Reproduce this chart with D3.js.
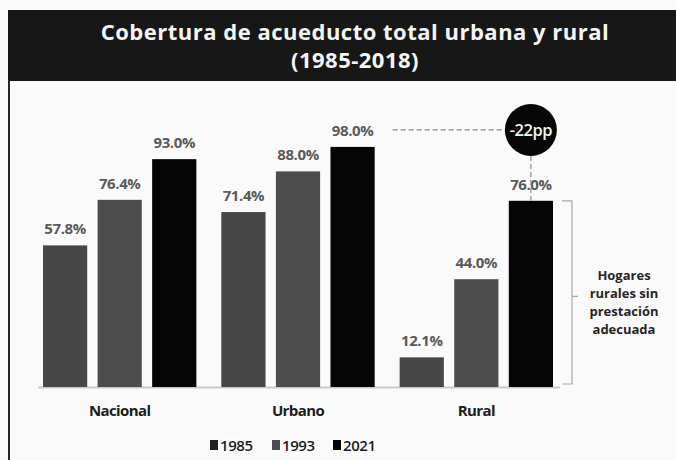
<!DOCTYPE html>
<html>
<head>
<meta charset="utf-8">
<script src="https://cdn.jsdelivr.net/npm/d3@7"></script>
<style>
  html, body { margin: 0; padding: 0; background: #fafafa; }
  svg { display: block; }
  text { font-family: "Open Sans", "Noto Sans", sans-serif; }
</style>
</head>
<body>
<svg id="chart" width="676" height="460"></svg>
<script>
// Coverage of water supply (acueducto) by area and year
const categories = ["Nacional", "Urbano", "Rural"];
const years = ["1985", "1993", "2021"];
const v1985 = [57.8, 71.4, 12.1];
const v1993 = [76.4, 88.0, 44.0];
const v2021 = [93.0, 98.0, 76.0];
const seriesValues = [v1985, v1993, v2021];
const titleLines = ["Cobertura de acueducto total urbana y rural", "(1985-2018)"];
const gapLabel = "-22pp";
const noteLines = ["Hogares", "rurales sin", "prestación", "adecuada"];

const colors = ["#474747", "#4d4d4d", "#050505"];
const labelColor = "#5a5a5a";

const svg = d3.select("#chart");
const W = 676, H = 460;

svg.append("rect").attr("width", W).attr("height", H).attr("fill", "#fafafa");

// Title band
svg.append("rect").attr("x", 8).attr("y", 10).attr("width", W - 8).attr("height", 71)
  .attr("fill", "#171717");
svg.append("line").attr("x1", 9).attr("x2", 9).attr("y1", 80).attr("y2", H)
  .attr("stroke", "#262626").attr("stroke-width", 2);
svg.append("g").selectAll("text").data(titleLines).join("text")
  .attr("x", 355).attr("y", (d, i) => 40 + i * 28)
  .attr("text-anchor", "middle").attr("fill", "#f4f4f4")
  .attr("font-size", 22).attr("font-weight", 700).attr("letter-spacing", 0.5)
  .text(d => d);

// Scales
const x0 = d3.scaleBand().domain(categories).range([43, 553]).paddingInner(0.14).paddingOuter(0);
const x1 = d3.scaleBand().domain(years).range([0, x0.bandwidth()]).paddingInner(0.19).paddingOuter(0);
const y = d3.scaleLinear().domain([0, 100]).range([387, 142]);

const rows = [];
categories.forEach((c, ci) => {
  years.forEach((yr, si) => rows.push({ cat: c, year: yr, si, value: seriesValues[si][ci] }));
});

// Baseline
svg.append("line").attr("x1", 38).attr("x2", 560).attr("y1", y(0) + 0.5).attr("y2", y(0) + 0.5)
  .attr("stroke", "#c9c9c9").attr("stroke-width", 2);

// Bars
svg.append("g").selectAll("rect").data(rows).join("rect")
  .attr("x", d => x0(d.cat) + x1(d.year))
  .attr("y", d => y(d.value))
  .attr("width", x1.bandwidth())
  .attr("height", d => y(0) - y(d.value))
  .attr("fill", d => colors[d.si]);

// Value labels
svg.append("g").selectAll("text").data(rows).join("text")
  .attr("x", d => x0(d.cat) + x1(d.year) + x1.bandwidth() / 2)
  .attr("y", d => y(d.value) - 11)
  .attr("text-anchor", "middle").attr("fill", labelColor)
  .attr("font-size", 15).attr("font-weight", 700).attr("letter-spacing", -0.4)
  .text(d => d.value.toFixed(1) + "%");

// Category labels
svg.append("g").selectAll("text").data(categories).join("text")
  .attr("x", d => x0(d) + x0.bandwidth() / 2)
  .attr("y", 416)
  .attr("text-anchor", "middle").attr("fill", "#1c1c1c")
  .attr("font-size", 15).attr("font-weight", 700).attr("letter-spacing", -0.6)
  .text(d => d);

// Legend
const legendX = [210, 272, 333];
const lg = svg.append("g").selectAll("g").data(years).join("g")
  .attr("transform", (d, i) => `translate(${legendX[i]},445)`);
lg.append("rect").attr("x", 0).attr("y", -5).attr("width", 8).attr("height", 10)
  .attr("fill", (d, i) => i === 0 ? "#222" : colors[i]);
lg.append("text").attr("x", 10).attr("y", 5.5)
  .attr("fill", "#1c1c1c").attr("font-size", 15).attr("font-weight", 600).attr("letter-spacing", -0.4)
  .text(d => d);

// Gap annotation between urban and rural 2021 coverage
const urbTop = { x: x0("Urbano") + x1("2021") + x1.bandwidth(), y: y(v2021[1]) };
const rurX = x0("Rural") + x1("2021") + x1.bandwidth() / 2;
const cy = y(v2021[1]) - 17;
const r = 26;
svg.append("line").attr("x1", urbTop.x + 18).attr("x2", rurX - r).attr("y1", cy).attr("y2", cy)
  .attr("stroke", "#8a8a8a").attr("stroke-width", 1.2).attr("stroke-dasharray", "5,3");
svg.append("line").attr("x1", rurX).attr("x2", rurX).attr("y1", cy + r).attr("y2", y(v2021[2]))
  .attr("stroke", "#8a8a8a").attr("stroke-width", 1.2).attr("stroke-dasharray", "5,3");
svg.append("circle").attr("cx", rurX).attr("cy", cy).attr("r", r).attr("fill", "#070707");
svg.append("text").attr("x", rurX).attr("y", cy + 6)
  .attr("text-anchor", "middle").attr("fill", "#f2f2f2")
  .attr("font-size", 16.5).attr("font-weight", 600).attr("letter-spacing", -0.5)
  .text(gapLabel);

// Bracket for rural households without adequate service
const bx = x0("Rural") + x0.bandwidth() + 19;
const bTop = y(v2021[2]), bBot = y(0) - 3;
const bMid = (bTop + bBot) / 2 + 4;
svg.append("path")
  .attr("d", `M${bx - 10},${bTop} H${bx} V${bBot} H${bx - 10} M${bx},${bMid} H${bx + 6}`)
  .attr("fill", "none").attr("stroke", "#a8a8a8").attr("stroke-width", 1.2);
svg.append("g").selectAll("text").data(noteLines).join("text")
  .attr("x", 624).attr("y", (d, i) => bMid - 16 + i * 18)
  .attr("text-anchor", "middle").attr("fill", "#262626")
  .attr("font-size", 13).attr("font-weight", 700).attr("letter-spacing", 0)
  .text(d => d);
</script>
</body>
</html>
